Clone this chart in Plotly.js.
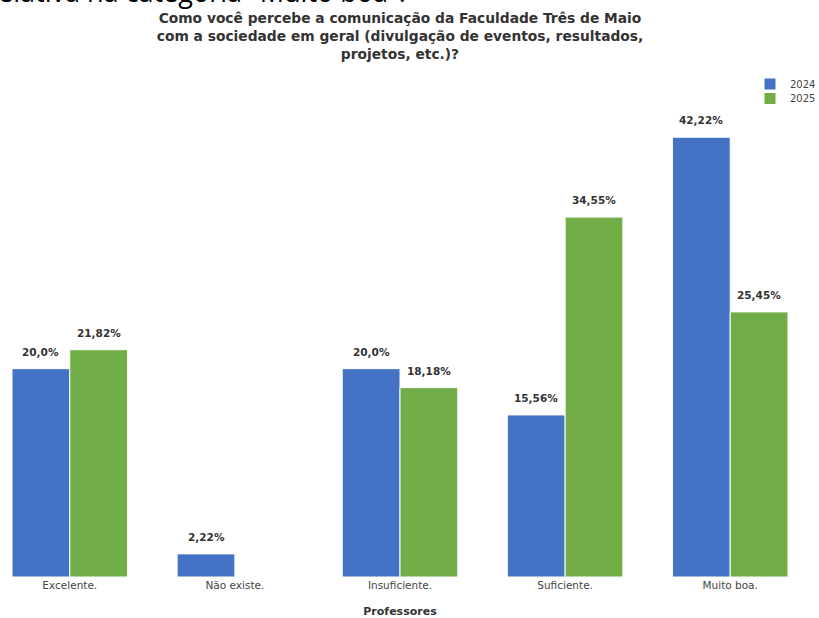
<!DOCTYPE html>
<html>
<head>
<meta charset="utf-8">
<script src="https://cdn.plot.ly/plotly-3.0.1.min.js"></script>
<style>html,body{margin:0;padding:0;background:#fff;}#chart{width:819px;height:618px;}</style>
</head>
<body>
<div id="chart"></div>
<script>
const categories = ["Excelente.", "Não existe.", "Insuficiente.", "Suficiente.", "Muito boa."];
const values2024 = [20.0, 2.22, 20.0, 15.56, 42.22];
const values2025 = [21.82, null, 18.18, 34.55, 25.45];
const labels2024 = ["20,0%", "2,22%", "20,0%", "15,56%", "42,22%"];
const labels2025 = ["21,82%", "", "18,18%", "34,55%", "25,45%"];
const seriesNames = ["2024", "2025"];
const colors = ["#4472C4", "#70AD47"];

const FONT = "DejaVu Sans, sans-serif";

const traces = [
  {type: "bar", name: seriesNames[0], x: categories, y: values2024, legend: "legend",
   marker: {color: colors[0], line: {color: "#ffffff", width: 1}}, hoverinfo: "none"},
  {type: "bar", name: seriesNames[1], x: categories, y: values2025, legend: "legend2",
   marker: {color: colors[1], line: {color: "#ffffff", width: 1}}, hoverinfo: "none"}
];

const annotations = [];
const groupOffset = 0.175;
[[values2024, labels2024, -groupOffset], [values2025, labels2025, groupOffset]].forEach(([vals, labs, off]) => {
  vals.forEach((v, i) => {
    if (v === null || labs[i] === "") return;
    annotations.push({x: i + off, y: v, xref: "x", yref: "y", text: labs[i], showarrow: false,
      yanchor: "bottom", yshift: 9, font: {family: FONT, size: 10.5, color: "#333333", weight: "bold"}});
  });
});
annotations.push({xref: "paper", yref: "paper", x: (408 - 12) / 776, y: (577 - 12.5) / 500, xanchor: "right", yanchor: "bottom",
  text: 'relativa na categoria "Muito boa".', showarrow: false,
  font: {family: "Open Sans, sans-serif", size: 27, color: "#000000"}});

const legendCommon = {xref: "container", yref: "container", x: 750 / 819, xanchor: "left", yanchor: "top",
  font: {family: FONT, size: 10, color: "#444444"}, bgcolor: "rgba(0,0,0,0)"};

const layout = {
  width: 819, height: 618,
  margin: {l: 12, r: 31, t: 77, b: 41, autoexpand: false},
  paper_bgcolor: "#ffffff", plot_bgcolor: "#ffffff",
  barmode: "group", bargap: 0.3, bargroupgap: 0,
  font: {family: FONT, color: "#444444"},
  title: {text: "<b>Como você percebe a comunicação da Faculdade Três de Maio<br>com a sociedade em geral (divulgação de eventos, resultados,<br>projetos, etc.)?</b>",
    x: 0.5, xref: "paper", xanchor: "center", y: 0.962, yanchor: "top",
    font: {family: FONT, size: 13.8, color: "#333333"}},
  xaxis: {type: "category", range: [-0.35, 4.35], showgrid: false, showline: false, zeroline: false,
    ticks: "", tickfont: {family: FONT, size: 10.5, color: "#444444"},
    title: {text: "<b>Professores</b>", standoff: 23, font: {family: FONT, size: 11, color: "#333333"}}},
  yaxis: {range: [0, 48], showgrid: false, showline: false, zeroline: false, showticklabels: false, ticks: ""},
  legend: Object.assign({}, legendCommon, {y: 1 - 69.5 / 618}),
  legend2: Object.assign({}, legendCommon, {y: 1 - 84 / 618}),
  annotations: annotations,
  showlegend: true
};

Plotly.newPlot("chart", traces, layout, {displayModeBar: false, staticPlot: true});
</script>
</body>
</html>
